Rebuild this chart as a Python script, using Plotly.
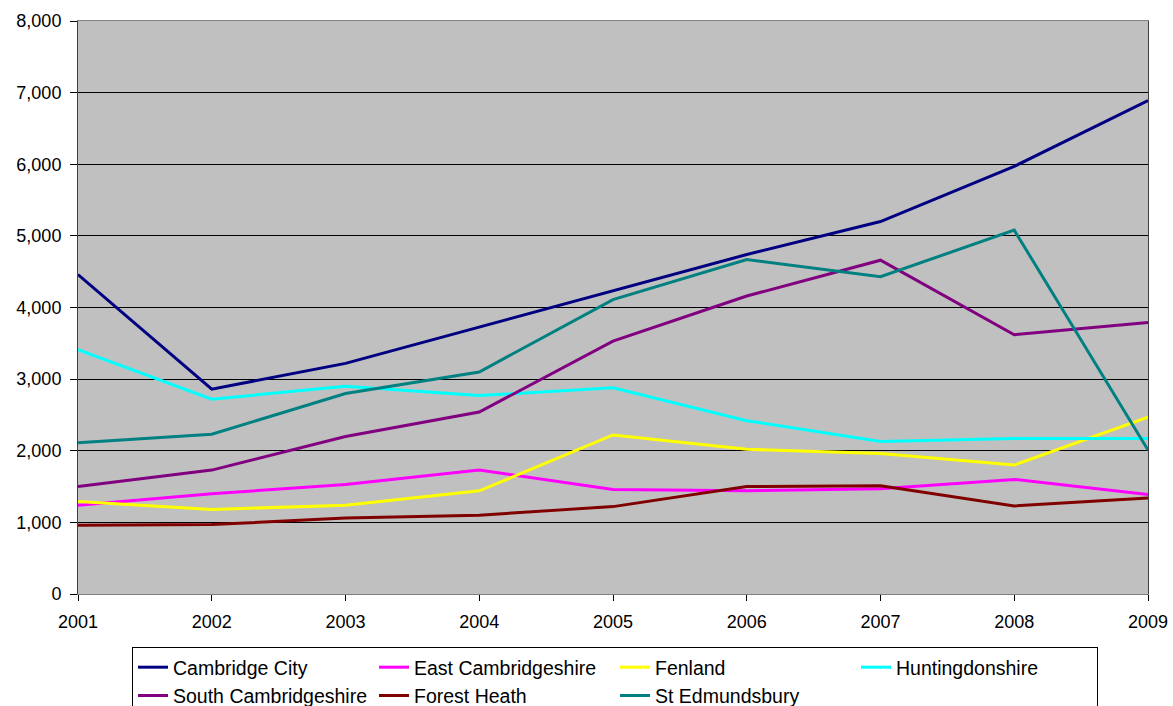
import plotly.graph_objects as go

years = [2001, 2002, 2003, 2004, 2005, 2006, 2007, 2008, 2009]

cambridge_city = [4460, 2860, 3220, 3730, 4240, 4740, 5200, 5970, 6890]
east_cambridgeshire = [1240, 1400, 1530, 1730, 1460, 1440, 1470, 1600, 1390]
fenland = [1290, 1180, 1240, 1440, 2220, 2020, 1960, 1800, 2470]
huntingdonshire = [3410, 2720, 2900, 2770, 2880, 2420, 2130, 2170, 2170]
south_cambridgeshire = [1500, 1730, 2200, 2540, 3530, 4160, 4660, 3620, 3790]
forest_heath = [960, 970, 1060, 1100, 1220, 1500, 1510, 1230, 1340]
st_edmundsbury = [2110, 2230, 2800, 3100, 4110, 4670, 4430, 5080, 2010]

series = [
    ("Cambridge City", cambridge_city, "#000080"),
    ("East Cambridgeshire", east_cambridgeshire, "#FF00FF"),
    ("Fenland", fenland, "#FFFF00"),
    ("Huntingdonshire", huntingdonshire, "#00FFFF"),
    ("South Cambridgeshire", south_cambridgeshire, "#800080"),
    ("Forest Heath", forest_heath, "#800000"),
    ("St Edmundsbury", st_edmundsbury, "#008080"),
]

fig = go.Figure()
for name, vals, color in series:
    fig.add_trace(go.Scatter(
        x=years, y=vals, name=name, mode="lines",
        line=dict(color=color, width=3),
    ))

font = "Liberation Sans, Arial, sans-serif"

fig.update_layout(
    width=1173, height=706,
    margin=dict(l=78, r=25, t=21, b=112),
    paper_bgcolor="white",
    plot_bgcolor="#C0C0C0",
    font=dict(family=font, size=18, color="black"),
    showlegend=True,
    legend=dict(
        orientation="h",
        xref="container", yref="container",
        x=132 / 1173, xanchor="left",
        y=1 - 647 / 706, yanchor="top",
        bordercolor="black", borderwidth=1,
        bgcolor="white",
        font=dict(family=font, size=19.5, color="black"),
        entrywidth=196,
        itemwidth=30,
        tracegroupgap=0,
    ),
    xaxis=dict(
        range=[2001, 2009],
        tickmode="array", tickvals=years, ticktext=[str(y) for y in years],
        showgrid=False, zeroline=False,
        showline=True, linecolor="#808080", linewidth=1, mirror=True,
        ticks="outside", ticklen=6, tickcolor="black",
        ticklabelstandoff=5,
        automargin=False,
        tickfont=dict(family=font, size=18, color="black"),
    ),
    yaxis=dict(
        range=[0, 8000], dtick=1000, tickformat=",",
        showgrid=True, gridcolor="black", gridwidth=1,
        zeroline=False,
        showline=True, linecolor="#404040", linewidth=1, mirror=True,
        ticks="outside", ticklen=7, tickcolor="black",
        ticklabelstandoff=5,
        automargin=False,
        tickfont=dict(family=font, size=18, color="black"),
    ),
)

fig.write_html("out.html")
